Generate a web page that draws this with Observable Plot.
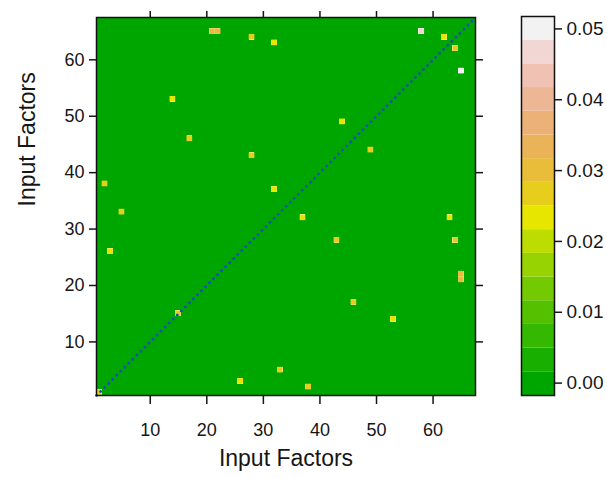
<!DOCTYPE html>
<html>
<head>
<meta charset="utf-8">
<script src="https://cdn.jsdelivr.net/npm/d3@7"></script>
<script src="https://cdn.jsdelivr.net/npm/@observablehq/plot@0.6"></script>
<style>
  html, body { margin: 0; padding: 0; background: #fff; }
  #wrap { position: relative; width: 607px; height: 478px; overflow: hidden; }
  #wrap > svg { position: absolute; top: 0; }
</style>
</head>
<body>
<div id="wrap"></div>
<script>
// ---- data ----
const nFactors = 67;
const axisTicks = [10, 20, 30, 40, 50, 60];
const keyTicks = [0.00, 0.01, 0.02, 0.03, 0.04, 0.05];
const axisTitle = "Input Factors";
// non-zero cells (row factor, column factor, value)
const cellX = [21, 22, 65, 65, 28, 64, 32, 63, 58, 65, 62, 64, 14, 53, 17, 46, 44, 49, 28, 43, 2, 38, 32, 37, 5, 33, 3, 26, 1, 15];
const cellY = [65, 65, 21, 22, 64, 28, 63, 32, 65, 58, 64, 62, 53, 14, 46, 17, 49, 44, 43, 28, 38, 2, 37, 32, 33, 5, 26, 3, 1, 15];
const cellV = [0.030, 0.030, 0.030, 0.030, 0.027, 0.027, 0.023, 0.023, 0.047, 0.050, 0.023, 0.027, 0.023, 0.023, 0.027, 0.027, 0.023, 0.027, 0.027, 0.027, 0.027, 0.027, 0.023, 0.023, 0.027, 0.027, 0.023, 0.023, 0.027, 0.027];
// colour key: 16 terrain colours over the extended z range
const zRange = [0, 0.05];
const palette = ["#00A600","#19AF00","#35B800","#53C100","#73CA00","#97D300","#BDDC00","#E6E600",
                 "#E7CE1D","#E9BD3A","#EAB358","#ECB176","#EDB694","#EFC2B3","#F1D6D3","#F2F2F2"];

// ---- derived tables ----
const ext = (zRange[1] - zRange[0]) * 0.035;
const zLo = zRange[0] - ext, zHi = zRange[1] + ext;
const breaks = d3.range(palette.length + 1).map(i => zLo + (zHi - zLo) * i / palette.length);
const bins = palette.map((c, i) => ({lo: breaks[i], hi: breaks[i + 1], mid: (breaks[i] + breaks[i + 1]) / 2}));

const factors = d3.range(1, nFactors + 1);
const valueAt = new Map(cellX.map((x, i) => [x + "," + cellY[i], cellV[i]]));
const grid = [];
for (const x of factors) for (const y of factors) grid.push({x, y, v: valueAt.get(x + "," + y) ?? 0});
const nonZero = grid.filter(d => d.v !== 0);
const zero = grid.filter(d => d.v === 0);
const domain = [0.5, nFactors + 0.5];

const color = {type: "threshold", domain: breaks.slice(1, -1), range: palette};
const font = "'Liberation Sans', Arial, sans-serif";
const ink = "#161616";

const main = Plot.plot({
  width: 607, height: 478,
  marginLeft: 96, marginRight: 132, marginTop: 17, marginBottom: 83,
  style: {fontFamily: font, fontSize: "18px", color: ink, background: "transparent"},
  x: {domain, ticks: axisTicks, label: null},
  y: {domain, ticks: axisTicks, label: null},
  color,
  marks: [
    Plot.rect(zero, {x1: d => d.x - 0.5, x2: d => d.x + 0.5, y1: d => d.y - 0.5, y2: d => d.y + 0.5, fill: "v", shapeRendering: "crispEdges"}),
    Plot.rect(nonZero, {x1: d => d.x - 0.5, x2: d => d.x + 0.5, y1: d => d.y - 0.5, y2: d => d.y + 0.5, fill: "v"}),
    Plot.line(domain, {x: d => d, y: d => d, stroke: "#1650b0", strokeWidth: 2.8, strokeDasharray: "0.1 5.6", strokeLinecap: "round"}),
    Plot.frame({stroke: "#111", strokeWidth: 1.5}),
    Plot.axisX({anchor: "bottom", ticks: axisTicks, tickSize: 9, tickPadding: 19, label: null, strokeWidth: 1.5}),
    Plot.axisX({anchor: "top", ticks: axisTicks, tickSize: 7, tickFormat: () => "", label: null, strokeWidth: 1.5}),
    Plot.axisY({anchor: "left", ticks: axisTicks, tickSize: 7, tickPadding: 5, label: null, strokeWidth: 1.5}),
    Plot.axisY({anchor: "right", ticks: axisTicks, tickSize: 7, tickFormat: () => "", label: null, strokeWidth: 1.5}),
    Plot.text([axisTitle], {frameAnchor: "bottom", dy: 70, fontSize: 23, fill: ink}),
    Plot.text([axisTitle], {frameAnchor: "left", dx: -69, rotate: -90, fontSize: 23, fill: ink})
  ]
});

const key = Plot.plot({
  width: 107, height: 478,
  marginLeft: 21, marginRight: 53, marginTop: 16, marginBottom: 83,
  style: {fontFamily: font, fontSize: "19px", color: ink, background: "transparent"},
  x: {axis: null},
  y: {domain: [zLo, zHi], label: null},
  color,
  marks: [
    Plot.rect(bins, {y1: "lo", y2: "hi", fill: "mid"}),
    Plot.frame({stroke: "#111", strokeWidth: 1.5}),
    Plot.axisY({anchor: "right", ticks: keyTicks, tickFormat: d3.format(".2f"), tickSize: 7, tickPadding: 5, label: null, strokeWidth: 1.5})
  ]
});
key.style.left = "500px";
main.style.left = "0px";

const wrap = document.getElementById("wrap");
wrap.appendChild(main);
wrap.appendChild(key);
</script>
</body>
</html>
